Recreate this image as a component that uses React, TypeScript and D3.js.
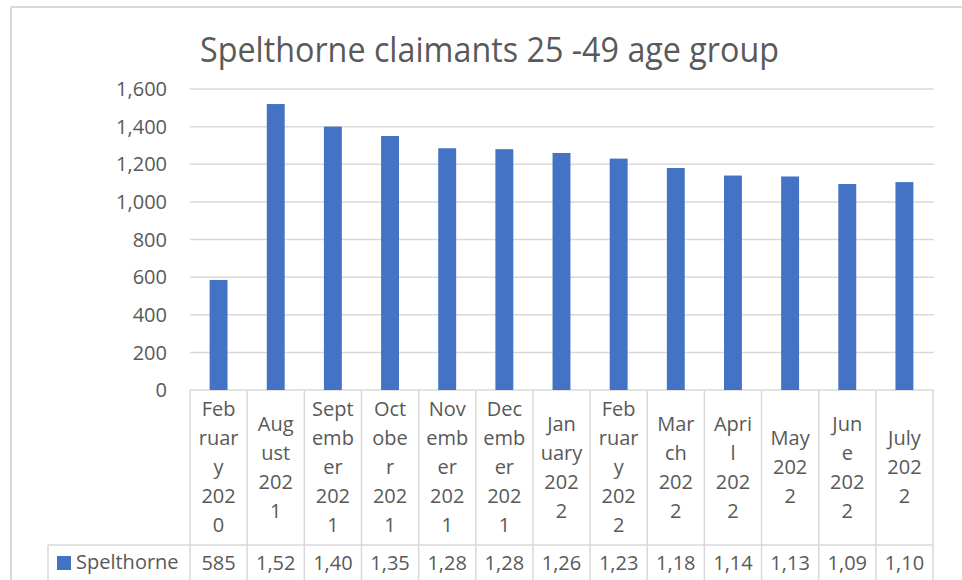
import React from "react";
import * as d3 from "d3";

const title = "Spelthorne claimants 25 -49 age group";
const seriesName = "Spelthorne";
const categories = [
  "February 2020",
  "August 2021",
  "September 2021",
  "October 2021",
  "November 2021",
  "December 2021",
  "January 2022",
  "February 2022",
  "March 2022",
  "April 2022",
  "May 2022",
  "June 2022",
  "July 2022",
];
const categoryLines = [
  ["Feb", "ruar", "y", "202", "0"],
  ["Aug", "ust", "202", "1"],
  ["Sept", "emb", "er", "202", "1"],
  ["Oct", "obe", "r", "202", "1"],
  ["Nov", "emb", "er", "202", "1"],
  ["Dec", "emb", "er", "202", "1"],
  ["Jan", "uary", "202", "2"],
  ["Feb", "ruar", "y", "202", "2"],
  ["Mar", "ch", "202", "2"],
  ["Apri", "l", "202", "2"],
  ["May", "202", "2"],
  ["Jun", "e", "202", "2"],
  ["July", "202", "2"],
];
const values = [585, 1520, 1400, 1350, 1285, 1280, 1260, 1230, 1180, 1140, 1135, 1095, 1105];
const yTicks = [0, 200, 400, 600, 800, 1000, 1200, 1400, 1600];

const W = 962;
const H = 580;
const FONT = "'Open Sans', 'Noto Sans', sans-serif";
const TEXT = "#595959";
const GRID = "#d9d9d9";
const BAR = "#4472C4";

export default function App() {
  const left = 190;
  const right = 933;
  const top = 89;
  const bottom = 390;
  const tableMid = 467;
  const tableRow = 545;

  const x = d3.scaleBand<string>().domain(categories).range([left, right]).padding(0);
  const y = d3.scaleLinear().domain([0, 1600]).range([bottom, top]);
  const barW = x.bandwidth() / 3.19;
  const fmt = d3.format(",");
  const step = x.step();

  return (
    <svg
      width={W}
      height={H}
      style={{ position: "absolute", left: 0, top: 0, background: "#fff" }}
      fontFamily={FONT}
    >
      <rect x={0} y={0} width={W} height={H} fill="#fff" />
      {/* chart frame */}
      <line x1={11} x2={W} y1={7} y2={7} stroke={GRID} strokeWidth={2} />
      <line x1={11} x2={11} y1={7} y2={H} stroke={GRID} strokeWidth={2} />

      <text
        x={489.5}
        y={62}
        textAnchor="middle"
        fontSize={35}
        fill={TEXT}
        textLength={579}
        lengthAdjust="spacingAndGlyphs"
      >
        {title}
      </text>

      {/* gridlines */}
      {yTicks.map((t) => (
        <line key={"g" + t} x1={left} x2={right + 1} y1={y(t)} y2={y(t)} stroke={GRID} strokeWidth={1.5} />
      ))}
      {/* y tick labels */}
      {yTicks.map((t) => (
        <text key={"t" + t} x={167} y={y(t)} dy="0.36em" textAnchor="end" fontSize={20} fill={TEXT}>
          {fmt(t)}
        </text>
      ))}

      {/* bars */}
      {categories.map((c, i) => (
        <rect
          key={"b" + c}
          x={(x(c) as number) + (x.bandwidth() - barW) / 2}
          y={y(values[i])}
          width={barW}
          height={y(0) - y(values[i])}
          fill={BAR}
        />
      ))}

      {/* data table lines */}
      {d3.range(categories.length + 1).map((k) => (
        <line
          key={"v" + k}
          x1={left + k * step}
          x2={left + k * step}
          y1={bottom}
          y2={H}
          stroke={GRID}
          strokeWidth={1.5}
        />
      ))}
      <line x1={48} x2={right} y1={tableRow} y2={tableRow} stroke={GRID} strokeWidth={1.5} />
      <line x1={48} x2={48} y1={tableRow} y2={H} stroke={GRID} strokeWidth={1.5} />

      {/* category labels */}
      {categories.map((c, i) => {
        const lines = categoryLines[i];
        const cx = (x(c) as number) + x.bandwidth() / 2;
        return (
          <text key={"c" + c} textAnchor="middle" fontSize={20} fill={TEXT}>
            {lines.map((ln, k) => (
              <tspan key={k} x={cx} y={tableMid + 7 + (k - (lines.length - 1) / 2) * 29}>
                {ln}
              </tspan>
            ))}
          </text>
        );
      })}

      {/* legend key + values row */}
      <rect x={57} y={556} width={14} height={14} fill={BAR} />
      <text x={76} y={569} fontSize={20} fill={TEXT}>
        {seriesName}
      </text>
      {categories.map((c, i) => (
        <text
          key={"d" + c}
          x={(x(c) as number) + x.bandwidth() / 2}
          y={570}
          textAnchor="middle"
          fontSize={20}
          fill={TEXT}
        >
          {fmt(values[i]).slice(0, 4)}
        </text>
      ))}
    </svg>
  );
}
